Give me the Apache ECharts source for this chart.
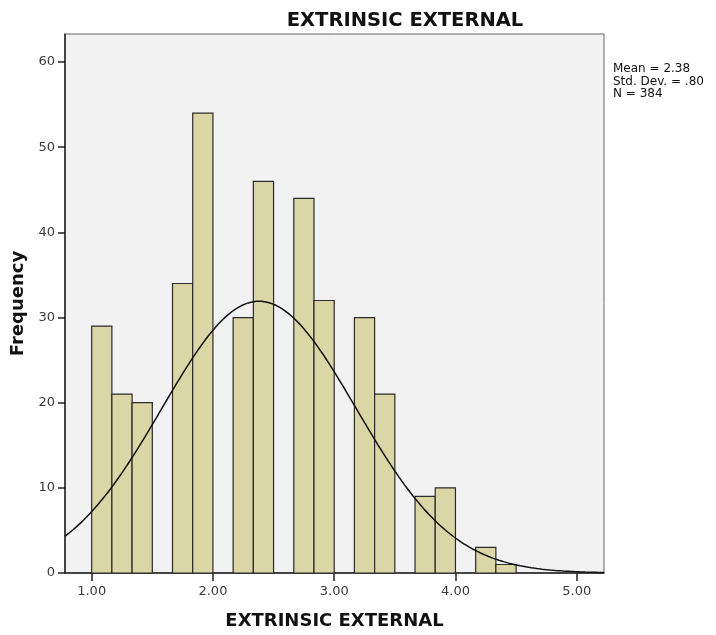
<!DOCTYPE html>
<html>
<head>
<meta charset="utf-8">
<script src="https://cdn.jsdelivr.net/npm/echarts@6/dist/echarts.min.js"></script>
<style>html,body{margin:0;padding:0;background:#fff}#c{width:716px;height:635px}</style>
</head>
<body>
<div id="c"></div>
<script>
// ---- data ----
const chartTitle = 'EXTRINSIC EXTERNAL';
const xAxisTitle = 'EXTRINSIC EXTERNAL';
const yAxisTitle = 'Frequency';
const binStart = [1.0000, 1.1667, 1.3333, 1.6667, 1.8333, 2.1667, 2.3333, 2.6667, 2.8333, 3.1667, 3.3333, 3.6667, 3.8333, 4.1667, 4.3333];
const binEnd   = [1.1667, 1.3333, 1.5000, 1.8333, 2.0000, 2.3333, 2.5000, 2.8333, 3.0000, 3.3333, 3.5000, 3.8333, 4.0000, 4.3333, 4.5000];
const counts   = [29, 21, 20, 34, 54, 30, 46, 44, 32, 30, 21, 9, 10, 3, 1];
const xTicks = [1, 2, 3, 4, 5];
const yTicks = [0, 10, 20, 30, 40, 50, 60];
const statMean = 2.38;
const statSD = 0.80;
const statN = 384;
const binWidth = 1 / 6;
const xMin = 0.78, xMax = 5.225, yMax = 63.3;

// normal curve from the stated statistics (SPSS normal overlay)
const curve = [];
for (let i = 0; i <= 200; i++) {
  const x = xMin + (xMax - xMin) * i / 200;
  const z = (x - statMean) / statSD;
  curve.push([x, statN * binWidth / (statSD * Math.sqrt(2 * Math.PI)) * Math.exp(-0.5 * z * z)]);
}
const barData = counts.map((c, i) => [binStart[i], binEnd[i], c]);

const chart = echarts.init(document.getElementById('c'));
const tickFont = { fontFamily: 'DejaVu Sans', fontSize: 13, color: '#3a3a3a' };
const boldFont = { fontFamily: 'DejaVu Sans', fontWeight: 'bold', fontSize: 18, color: '#111' };
chart.setOption({
  animation: false,
  backgroundColor: '#fff',
  title: {
    text: chartTitle, left: 400, top: 6, textAlign: 'center',
    textStyle: Object.assign({}, boldFont, { fontSize: 19.5 })
  },
  graphic: [{
    type: 'text', left: 613, top: 63,
    style: {
      text: 'Mean = ' + statMean.toFixed(2) + '\nStd. Dev. = .' + Math.round(statSD * 100) + '\nN = ' + statN,
      font: '12px "DejaVu Sans"', fill: '#111', lineHeight: 12.5
    }
  }],
  grid: {
    left: 65, top: 34, right: 112, bottom: 62,
    outerBoundsMode: 'none', containLabel: false,
    show: true, backgroundColor: '#f2f2f2', borderColor: '#666', borderWidth: 1
  },
  xAxis: {
    type: 'value', min: xMin, max: xMax,
    name: xAxisTitle, nameLocation: 'middle', nameGap: 39,
    nameTextStyle: boldFont,
    axisLine: { show: true, lineStyle: { color: '#222', width: 1.5 } },
    axisTick: { show: true, inside: false, length: 8, customValues: xTicks, lineStyle: { color: '#222', width: 1.5 } },
    axisLabel: Object.assign({ customValues: xTicks, margin: 12, formatter: v => v.toFixed(2) }, tickFont),
    splitLine: { show: false }
  },
  yAxis: {
    type: 'value', min: 0, max: yMax,
    name: yAxisTitle, nameLocation: 'middle', nameGap: 38, nameRotate: 90,
    nameTextStyle: boldFont,
    axisLine: { show: true, lineStyle: { color: '#222', width: 1.5 } },
    axisTick: { show: true, inside: false, length: 7, customValues: yTicks, lineStyle: { color: '#222', width: 1.5 } },
    axisLabel: Object.assign({ customValues: yTicks, margin: 10 }, tickFont),
    splitLine: { show: false }
  },
  series: [{
    type: 'custom',
    data: barData,
    encode: { x: [0, 1], y: 2 },
    renderItem: function (params, api) {
      const p0 = api.coord([api.value(0), 0]);
      const p1 = api.coord([api.value(1), api.value(2)]);
      return {
        type: 'rect',
        shape: { x: p0[0], y: p1[1], width: p1[0] - p0[0], height: p0[1] - p1[1] },
        style: { fill: '#dbd6a6', stroke: '#2b2b2b', lineWidth: 1.2 }
      };
    },
    z: 2
  }, {
    type: 'line', data: curve, showSymbol: false, symbol: 'none',
    smooth: false, clip: true,
    lineStyle: { color: '#111', width: 1.5 }, z: 3
  }]
});
</script>
</body>
</html>
